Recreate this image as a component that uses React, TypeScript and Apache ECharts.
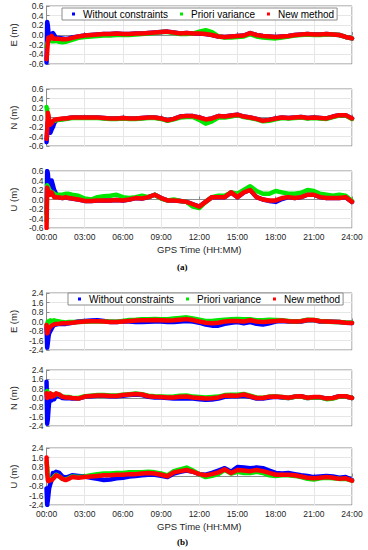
import React, { useEffect, useRef } from "react";
import * as echarts from "echarts";

// Time in hours (GPS time)
const TIME_H = [
  0, 0.05, 0.1, 0.15, 0.2, 0.3, 0.4, 0.5, 0.6, 0.75, 1, 1.25, 1.5, 1.75, 2,
  2.5, 3, 3.5, 4, 4.5, 5, 5.5, 6, 6.5, 7, 7.5, 8, 8.5, 9, 9.5,
  10, 10.5, 11, 11.5, 12, 12.5, 13, 13.5, 14, 14.5, 15, 15.5, 16, 16.5, 17,
  17.5, 18, 18.5, 19, 19.5, 20, 20.5, 21, 21.5, 22, 22.5, 23, 23.5, 24,
];

const SERIES_NAMES = ["Without constraints", "Priori variance", "New method"];
const X_TICKS_H = [0, 3, 6, 9, 12, 15, 18, 21, 24];

// ---- (a) ----
const A_E_WITHOUT = [
  -0.57, 0.27, 0.2, 0.05, -0.05, -0.08, 0.02, 0.04, 0.0, -0.06, -0.06, -0.07, -0.08, -0.07, -0.05,
  -0.03, -0.01, 0.0, 0.01, 0.02, 0.02, 0.03, 0.02, 0.02, 0.03, 0.03, 0.04, 0.05, 0.06, 0.07,
  0.05, 0.03, 0.04, 0.03, 0.03, 0.02, 0.0, -0.03, -0.04, -0.03, -0.02, -0.01, 0.04, 0.0, -0.02,
  -0.03, -0.04, -0.03, -0.02, 0.0, 0.01, 0.02, 0.01, 0.01, 0.02, 0.01, 0.0, -0.04, -0.07,
];
const A_E_PRIORI = [
  -0.25, -0.18, -0.15, -0.15, -0.12, -0.12, -0.13, -0.12, -0.13, -0.12, -0.14, -0.15, -0.14, -0.12, -0.1,
  -0.06, -0.04, -0.03, -0.02, -0.01, -0.01, 0.0, 0.0, 0.0, 0.01, 0.02, 0.03, 0.04, 0.06, 0.06,
  0.04, 0.02, 0.02, 0.03, 0.07, 0.1, 0.06, -0.03, -0.05, -0.05, -0.04, -0.03, 0.02, -0.03, -0.05,
  -0.06, -0.07, -0.05, -0.03, -0.01, 0.0, 0.01, 0.0, 0.0, 0.01, 0.01, 0.0, -0.04, -0.07,
];
const A_E_NEW = [
  -0.5, -0.35, -0.15, -0.05, -0.1, -0.06, -0.02, -0.06, -0.08, -0.08, -0.08, -0.09, -0.09, -0.08, -0.06,
  -0.03, -0.01, 0.0, 0.01, 0.02, 0.02, 0.03, 0.02, 0.02, 0.03, 0.03, 0.04, 0.05, 0.06, 0.07,
  0.05, 0.03, 0.04, 0.03, 0.03, 0.02, 0.0, -0.03, -0.04, -0.03, -0.02, -0.01, 0.04, 0.0, -0.02,
  -0.03, -0.04, -0.03, -0.02, 0.0, 0.01, 0.02, 0.01, 0.01, 0.02, 0.01, 0.0, -0.04, -0.07,
];

const A_N_WITHOUT = [
  -0.52, -0.3, -0.1, -0.25, -0.3, -0.32, -0.25, -0.2, -0.12, -0.06, -0.04, -0.03, -0.02, -0.01, 0.0,
  0.0, 0.0, 0.0, 0.0, -0.01, -0.02, -0.02, -0.01, -0.02, -0.02, -0.01, 0.0, 0.0, -0.02, -0.06,
  -0.03, 0.02, 0.03, 0.03, 0.0, -0.04, -0.02, 0.03, 0.02, 0.04, 0.06, 0.02, 0.0, -0.03, -0.07,
  -0.05, -0.02, 0.0, -0.01, 0.0, 0.01, -0.01, 0.0, -0.01, -0.02, 0.02, 0.05, 0.05, -0.02,
];
const A_N_PRIORI = [
  0.22, 0.15, 0.05, -0.05, -0.1, -0.12, -0.1, -0.08, -0.07, -0.06, -0.05, -0.04, -0.03, -0.02, -0.01,
  -0.01, -0.01, -0.01, -0.01, -0.02, -0.03, -0.03, -0.02, -0.03, -0.03, -0.02, -0.01, -0.01, -0.03, -0.07,
  -0.04, 0.0, 0.01, 0.01, -0.05, -0.13, -0.08, 0.0, 0.0, 0.02, 0.05, 0.01, -0.01, -0.04, -0.08,
  -0.07, -0.04, -0.01, -0.02, -0.01, 0.0, -0.02, -0.01, -0.02, -0.03, 0.01, 0.04, 0.04, -0.03,
];
const A_N_NEW = [
  -0.45, -0.25, 0.1, 0.05, -0.05, -0.15, -0.12, -0.08, -0.05, -0.04, -0.03, -0.02, -0.02, -0.01, 0.0,
  0.0, 0.0, 0.0, 0.0, -0.01, -0.02, -0.02, -0.01, -0.02, -0.02, -0.01, 0.0, 0.0, -0.02, -0.06,
  -0.03, 0.02, 0.03, 0.03, 0.0, -0.04, -0.02, 0.03, 0.02, 0.04, 0.06, 0.02, 0.0, -0.03, -0.07,
  -0.05, -0.02, 0.0, -0.01, 0.0, 0.01, -0.01, 0.0, -0.01, -0.02, 0.02, 0.05, 0.05, -0.02,
];

const A_U_WITHOUT = [
  -0.3, 0.6, 0.55, 0.4, 0.3, 0.25, 0.4, 0.3, 0.2, 0.12, 0.05, 0.03, 0.05, 0.03, 0.02,
  0.0, -0.03, -0.03, -0.02, -0.02, -0.02, -0.01, -0.02, 0.0, 0.03, 0.02, 0.05, 0.1, 0.03, -0.02,
  -0.02, -0.03, -0.05, -0.1, -0.15, -0.05, 0.05, 0.05, 0.05, 0.15, 0.05, 0.15, 0.2, 0.05, 0.0,
  -0.03, -0.05, 0.01, 0.05, 0.03, 0.05, 0.1, 0.1, 0.05, 0.03, 0.03, 0.03, 0.05, -0.05,
];
const A_U_PRIORI = [
  -0.45, 0.3, 0.3, 0.25, 0.2, 0.18, 0.15, 0.15, 0.12, 0.1, 0.1, 0.1, 0.12, 0.12, 0.1,
  0.08, 0.02, 0.0, 0.05, 0.07, 0.08, 0.1, 0.05, 0.03, 0.05, 0.08, 0.05, 0.1, 0.02, -0.02,
  0.0, -0.03, -0.05, -0.15, -0.18, -0.05, 0.05, 0.08, 0.08, 0.15, 0.12, 0.2, 0.28, 0.18, 0.12,
  0.12, 0.18, 0.15, 0.12, 0.12, 0.14, 0.2, 0.18, 0.12, 0.1, 0.08, 0.1, 0.08, -0.03,
];
const A_U_NEW = [
  -0.6, 0.25, 0.2, 0.1, 0.15, 0.1, 0.15, 0.1, 0.05, 0.05, 0.04, 0.03, 0.05, 0.03, 0.02,
  0.0, -0.03, -0.03, -0.02, -0.02, -0.02, -0.01, -0.02, 0.0, 0.03, 0.02, 0.05, 0.1, 0.03, -0.02,
  -0.02, -0.03, -0.05, -0.1, -0.15, -0.05, 0.05, 0.05, 0.05, 0.15, 0.05, 0.15, 0.2, 0.05, 0.0,
  -0.02, -0.02, 0.03, 0.05, 0.03, 0.05, 0.1, 0.1, 0.05, 0.03, 0.03, 0.03, 0.05, -0.05,
];

// ---- (b) ----
const B_E_WITHOUT = [
  -0.5, -2.2, -1.8, -1.3, -1.0, -0.8, -0.6, -0.4, -0.3, -0.25, -0.2, -0.2, -0.2, -0.15, -0.1,
  0.0, 0.05, 0.08, 0.1, 0.05, -0.05, -0.05, 0.0, 0.0, -0.05, -0.05, -0.02, 0.0, 0.0, -0.05,
  -0.05, 0.0, 0.05, 0.0, -0.1, -0.25, -0.35, -0.35, -0.2, -0.1, -0.05, -0.15, -0.05, -0.2, -0.25,
  -0.15, 0.0, 0.05, 0.0, -0.02, 0.0, 0.1, 0.1, 0.0, 0.0, -0.02, -0.05, -0.1, -0.12,
];
const B_E_PRIORI = [
  -0.3, -0.2, 0.0, -0.1, 0.0, 0.1, 0.0, 0.05, 0.1, 0.05, 0.0, -0.05, -0.08, -0.05, -0.05,
  -0.05, -0.02, 0.0, 0.02, 0.0, 0.0, -0.02, 0.05, 0.12, 0.15, 0.2, 0.2, 0.22, 0.2, 0.2,
  0.25, 0.3, 0.35, 0.25, 0.15, 0.05, 0.05, 0.1, 0.15, 0.2, 0.22, 0.18, 0.2, 0.1, 0.1,
  0.15, 0.12, 0.1, 0.05, 0.0, 0.05, 0.15, 0.12, 0.05, 0.0, -0.05, -0.05, -0.08, -0.1,
];
const B_E_NEW = [
  -0.3, -1.0, -0.9, -0.7, -0.5, -0.45, -0.35, -0.3, -0.25, -0.2, -0.18, -0.15, -0.15, -0.12, -0.1,
  -0.05, 0.0, 0.02, 0.02, 0.0, -0.05, -0.05, 0.0, 0.05, 0.08, 0.1, 0.1, 0.12, 0.1, 0.08,
  0.1, 0.15, 0.2, 0.12, 0.0, -0.1, -0.15, -0.1, 0.0, 0.05, 0.05, 0.0, 0.1, 0.0, -0.05,
  0.0, 0.05, 0.08, 0.02, 0.0, 0.02, 0.12, 0.12, 0.02, 0.0, -0.03, -0.05, -0.1, -0.12,
];

const B_N_WITHOUT = [
  1.4, -2.2, -1.8, -1.0, -0.4, 0.2, -0.2, 0.1, -0.1, 0.2, 0.15, 0.0, -0.02, 0.0, -0.05,
  -0.05, 0.1, 0.15, 0.2, 0.2, 0.15, 0.15, 0.2, 0.25, 0.3, 0.25, 0.1, 0.05, 0.05, 0.0,
  -0.05, -0.05, -0.02, -0.05, -0.1, -0.15, -0.12, -0.05, 0.1, 0.15, 0.15, 0.2, 0.1, -0.05, -0.05,
  0.05, 0.1, 0.05, 0.0, 0.1, 0.15, 0.0, 0.05, 0.05, -0.05, 0.0, 0.15, 0.12, 0.0,
];
const B_N_PRIORI = [
  0.5, 0.6, 0.4, 0.3, 0.2, 0.3, 0.2, 0.3, 0.25, 0.35, 0.3, 0.12, 0.08, 0.08, 0.03,
  0.0, 0.15, 0.2, 0.25, 0.25, 0.22, 0.22, 0.28, 0.33, 0.38, 0.33, 0.2, 0.15, 0.12, 0.1,
  0.12, 0.2, 0.22, 0.12, 0.08, 0.05, 0.08, 0.12, 0.25, 0.28, 0.28, 0.35, 0.2, 0.05, 0.03,
  0.12, 0.12, 0.08, 0.0, 0.1, 0.12, 0.0, 0.05, 0.05, -0.1, -0.05, 0.12, 0.15, 0.0,
];
const B_N_NEW = [
  0.4, 0.0, 0.3, 0.3, 0.1, 0.4, 0.1, 0.3, 0.2, 0.4, 0.3, 0.1, 0.05, 0.05, 0.0,
  -0.05, 0.12, 0.18, 0.22, 0.22, 0.18, 0.18, 0.25, 0.3, 0.35, 0.3, 0.15, 0.1, 0.08, 0.05,
  0.05, 0.1, 0.12, 0.05, 0.0, -0.05, -0.02, 0.05, 0.2, 0.22, 0.2, 0.3, 0.15, 0.0, 0.0,
  0.1, 0.12, 0.08, 0.02, 0.12, 0.15, 0.02, 0.08, 0.08, -0.05, 0.0, 0.15, 0.15, 0.0,
];

const B_U_WITHOUT = [
  -1.0, -2.4, -2.0, -1.5, -1.0, -0.6, -0.3, 0.3, 0.2, 0.4, 0.3, 0.0, -0.1, 0.0, 0.1,
  0.05, 0.0, -0.1, -0.2, -0.3, -0.25, -0.15, -0.1, 0.0, 0.05, 0.1, 0.15, 0.15, 0.05, -0.05,
  0.25, 0.4, 0.5, 0.4, 0.2, 0.15, 0.3, 0.5, 0.7, 0.4, 0.8, 0.75, 0.7, 0.75, 0.7,
  0.5, 0.3, 0.25, 0.3, 0.2, 0.1, 0.05, -0.05, 0.0, 0.05, 0.0, -0.1, -0.05, -0.3,
];
const B_U_PRIORI = [
  1.2, 0.8, 0.2, -0.2, -0.3, -0.3, -0.2, -0.15, 0.0, 0.15, 0.0, -0.2, -0.25, -0.15, 0.0,
  -0.05, 0.0, 0.1, 0.2, 0.25, 0.25, 0.3, 0.3, 0.35, 0.35, 0.35, 0.4, 0.35, 0.25, 0.1,
  0.45, 0.6, 0.75, 0.5, 0.2, -0.05, 0.05, 0.2, 0.55, 0.25, 0.4, 0.3, 0.3, 0.4, 0.3,
  0.1, 0.05, 0.1, 0.1, 0.05, -0.05, -0.2, -0.25, -0.15, -0.1, -0.15, -0.2, -0.2, -0.35,
];
const B_U_NEW = [
  1.6, 0.3, -0.3, -0.4, -0.3, -0.3, -0.3, -0.2, -0.1, 0.1, 0.0, -0.2, -0.3, -0.2, -0.05,
  -0.1, -0.05, 0.0, 0.05, 0.1, 0.1, 0.15, 0.15, 0.2, 0.2, 0.25, 0.3, 0.25, 0.15, 0.02,
  0.35, 0.45, 0.55, 0.4, 0.2, 0.1, 0.2, 0.35, 0.6, 0.3, 0.55, 0.5, 0.45, 0.55, 0.45,
  0.3, 0.15, 0.15, 0.15, 0.1, 0.0, -0.1, -0.15, -0.1, -0.05, -0.1, -0.2, -0.15, -0.35,
];

const COLORS = ["#0000ff", "#00e800", "#ff0000"];
const FONT = "'Liberation Sans', Arial, sans-serif";

const PANELS = [
  { label: "E (m)", data: [A_E_WITHOUT, A_E_PRIORI, A_E_NEW], lim: 0.6, step: 0.2, top: 6, height: 58, bottomAxis: false },
  { label: "N (m)", data: [A_N_WITHOUT, A_N_PRIORI, A_N_NEW], lim: 0.6, step: 0.2, top: 89, height: 57, bottomAxis: false },
  { label: "U (m)", data: [A_U_WITHOUT, A_U_PRIORI, A_U_NEW], lim: 0.6, step: 0.2, top: 171, height: 57, bottomAxis: true },
  { label: "E (m)", data: [B_E_WITHOUT, B_E_PRIORI, B_E_NEW], lim: 2.4, step: 0.8, top: 293, height: 57, bottomAxis: false },
  { label: "N (m)", data: [B_N_WITHOUT, B_N_PRIORI, B_N_NEW], lim: 2.4, step: 0.8, top: 370, height: 56, bottomAxis: false },
  { label: "U (m)", data: [B_U_WITHOUT, B_U_PRIORI, B_U_NEW], lim: 2.4, step: 0.8, top: 448, height: 57, bottomAxis: true },
];

const pad2 = (v: number) => (v < 10 ? "0" + v : "" + v);

export default function App() {
  const ref = useRef<HTMLDivElement>(null);
  useEffect(() => {
    if (!ref.current) return;
    const chart = echarts.init(ref.current, null, { renderer: "svg" });
    const grids: any[] = [];
    const xAxes: any[] = [];
    const yAxes: any[] = [];
    const series: any[] = [];
    PANELS.forEach((p, i) => {
      grids.push({
        left: 32,
        width: 320,
        top: p.top,
        height: p.height,
        show: true,
        borderColor: "#8c8c8c",
        borderWidth: 1,
        backgroundColor: "#ffffff",
        containLabel: false,
      });
      xAxes.push({
        type: "value",
        gridIndex: i,
        min: 0,
        max: 24,
        interval: 3,
        axisLine: { show: true, lineStyle: { color: "#8c8c8c", width: 1 } },
        axisTick: { show: true, inside: true, length: 3, lineStyle: { color: "#8c8c8c" } },
        splitLine: { show: true, lineStyle: { color: "#e6e6e6", width: 1 } },
        axisLabel: {
          show: p.bottomAxis,
          margin: 4,
          fontSize: 8.5,
          color: "#262626",
          fontFamily: FONT,
          formatter: (v: number) => (X_TICKS_H.includes(v) ? pad2(v) + ":00" : ""),
        },
        name: p.bottomAxis ? "GPS Time (HH:MM)" : "",
        nameLocation: "middle",
        nameGap: 16,
        nameTextStyle: { fontSize: 9.5, color: "#262626", fontFamily: FONT },
      });
      yAxes.push({
        type: "value",
        gridIndex: i,
        min: -p.lim,
        max: p.lim,
        interval: p.step,
        axisLine: { show: true, lineStyle: { color: "#8c8c8c", width: 1 } },
        axisTick: { show: true, inside: true, length: 3, lineStyle: { color: "#8c8c8c" } },
        splitLine: { show: true, lineStyle: { color: "#e6e6e6", width: 1 } },
        axisLabel: {
          margin: 3,
          fontSize: 8.5,
          color: "#262626",
          fontFamily: FONT,
          formatter: (v: number) => {
            const r = Math.round(v * 10) / 10;
            return (Math.abs(r) < 1e-9 ? 0 : r).toFixed(1);
          },
        },
        name: p.label,
        nameLocation: "middle",
        nameGap: 20,
        nameTextStyle: { fontSize: 9.5, color: "#262626", fontFamily: FONT },
      });
      p.data.forEach((vals, k) => {
        series.push({
          type: "line",
          name: SERIES_NAMES[k],
          xAxisIndex: i,
          yAxisIndex: i,
          data: TIME_H.map((t, j) => [t, vals[j]]),
          showSymbol: false,
          symbol: "none",
          lineStyle: { color: COLORS[k], width: 4.5, join: "round", cap: "round" },
          itemStyle: { color: COLORS[k] },
          z: 2 + k,
          silent: true,
        });
      });
    });
    const legendCommon = {
      data: SERIES_NAMES,
      icon: "rect",
      itemWidth: 3,
      itemHeight: 3,
      itemGap: 12,
      orient: "horizontal",
      backgroundColor: "#ffffff",
      borderColor: "#8c8c8c",
      borderWidth: 1,
      borderRadius: 0,
      padding: [1, 3, 1, 10],
      textStyle: { fontSize: 10, color: "#000000", fontFamily: FONT, padding: [0, 0, 0, 3] },
      selectedMode: false,
    };
    chart.setOption({
      animation: false,
      backgroundColor: "#ffffff",
      grid: grids,
      xAxis: xAxes,
      yAxis: yAxes,
      legend: [
        { ...legendCommon, left: 62, top: 8 },
        { ...legendCommon, left: 68, top: 293 },
      ],
      series,
      graphic: [
        {
          type: "text",
          left: 177,
          top: 262,
          style: { text: "(a)", font: "bold 9px 'Liberation Serif', 'Times New Roman', serif", fill: "#000" },
        },
        {
          type: "text",
          left: 177,
          top: 537,
          style: { text: "(b)", font: "bold 9px 'Liberation Serif', 'Times New Roman', serif", fill: "#000" },
        },
      ],
    });
    return () => chart.dispose();
  }, []);
  return (
    <div
      ref={ref}
      style={{ position: "absolute", left: 0, top: 0, width: 368, height: 550, background: "#fff" }}
    />
  );
}
